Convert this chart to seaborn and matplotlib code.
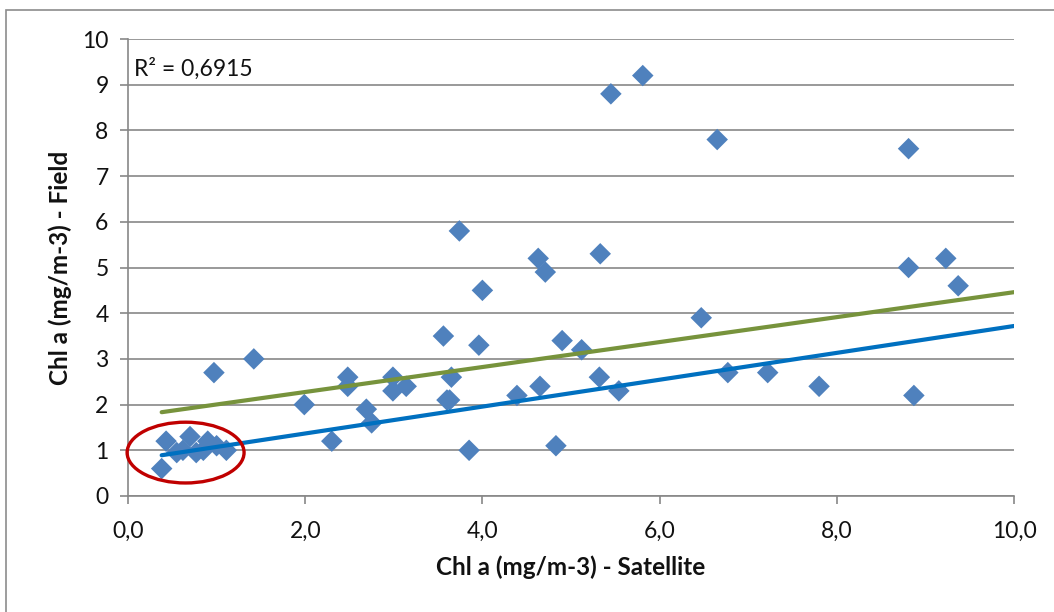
import matplotlib
matplotlib.use("Agg")
import matplotlib.pyplot as plt
from matplotlib.patches import Ellipse, Rectangle
from matplotlib.ticker import FuncFormatter, MultipleLocator
import numpy as np
import pandas as pd
import seaborn as sns

# Satellite vs field chlorophyll-a matchups
satellite = [0.38, 0.43, 0.55, 0.62, 0.70, 0.77, 0.85, 0.90, 1.00, 1.11,
             0.97, 1.42, 1.99, 2.30, 2.48, 2.48, 2.69, 2.75, 2.99, 2.99,
             3.14, 3.56, 3.60, 3.63, 3.65, 3.74, 3.85, 3.96, 4.00, 4.39,
             4.63, 4.65, 4.71, 4.83, 4.90, 5.12, 5.32, 5.33, 5.45, 5.54,
             5.81, 6.47, 6.65, 6.77, 7.22, 7.80, 8.81, 8.81, 8.87, 9.23,
             9.37]
field = [0.6, 1.2, 0.95, 1.0, 1.3, 0.95, 1.0, 1.2, 1.1, 1.0,
         2.7, 3.0, 2.0, 1.2, 2.6, 2.4, 1.9, 1.6, 2.6, 2.3,
         2.4, 3.5, 2.1, 2.1, 2.6, 5.8, 1.0, 3.3, 4.5, 2.2,
         5.2, 2.4, 4.9, 1.1, 3.4, 3.2, 2.6, 5.3, 8.8, 2.3,
         9.2, 3.9, 7.8, 2.7, 2.7, 2.4, 7.6, 5.0, 2.2, 5.2,
         4.6]

# Fitted lines (slope, intercept) drawn over the satellite range
trend_blue = (0.294, 0.78)
trend_green = (0.273, 1.73)
line_x = [0.38, 10.0]

r2_label = "R² = 0,6915"
x_label = "Chl a (mg/m-3) - Satellite"
y_label = "Chl a (mg/m-3) - Field"

# Low-concentration cluster highlight (centre x, centre y, width, height)
cluster = (0.65, 0.95, 1.32, 1.33)

sns.set_theme(style="white")
plt.rcParams["font.family"] = ["Lato", "DejaVu Sans"]

fig = plt.figure(figsize=(10.54, 6.12), dpi=100)
ax = fig.add_axes([128 / 1054, 1 - 496 / 612, (1014 - 128) / 1054, (496 - 39) / 612])

grid_c = "#878787"
text_c = "#111111"
ax.set_xlim(0, 10)
ax.set_ylim(0, 10)
ax.yaxis.set_major_locator(MultipleLocator(1))
ax.xaxis.set_major_locator(MultipleLocator(2))
ax.grid(axis="y", color=grid_c, lw=1.2)
ax.grid(axis="x", visible=False)
ax.set_axisbelow(True)

for side in ("top", "right"):
    ax.spines[side].set_visible(False)
for side in ("left", "bottom"):
    ax.spines[side].set_color(grid_c)
    ax.spines[side].set_linewidth(1.2)

df = pd.DataFrame({"sat": satellite, "field": field})
sns.scatterplot(data=df, x="sat", y="field", marker="D", s=120,
                color="#4F81BD", edgecolor="none", ax=ax, zorder=3)

lx = np.array(line_x)
green = pd.DataFrame({"x": lx, "y": trend_green[0] * lx + trend_green[1]})
blue = pd.DataFrame({"x": lx, "y": trend_blue[0] * lx + trend_blue[1]})
sns.lineplot(data=green, x="x", y="y", color="#77933C", lw=3.0, ax=ax, zorder=4)
sns.lineplot(data=blue, x="x", y="y", color="#0070C0", lw=3.0, ax=ax, zorder=4)

ax.add_patch(Ellipse((cluster[0], cluster[1]), cluster[2], cluster[3],
                     fill=False, edgecolor="#C00000", lw=2.4, zorder=5,
                     clip_on=False))

ax.text(0.007, 0.935, r2_label, transform=ax.transAxes, fontsize=16.5,
        color=text_c, ha="left", va="center")

ax.tick_params(axis="both", which="major", direction="out", length=6,
               width=1.2, color=grid_c, labelsize=16.5, labelcolor=text_c,
               bottom=True, left=True)
ax.tick_params(axis="x", pad=12)
ax.tick_params(axis="y", pad=8)
ax.xaxis.set_major_formatter(FuncFormatter(lambda v, p: f"{v:.1f}".replace(".", ",")))
ax.yaxis.set_major_formatter(FuncFormatter(lambda v, p: f"{int(round(v))}"))

ax.set_xlabel(x_label, fontsize=17.5, fontweight="bold", color=text_c, labelpad=10)
ax.set_ylabel(y_label, fontsize=17.5, fontweight="bold", color=text_c, labelpad=7)

# Outer chart frame
fig.patches.append(Rectangle((6 / 1054, -0.1), 1.2, 1 - 10 / 612 + 0.1,
                             transform=fig.transFigure, fill=False,
                             edgecolor="#8c8c8c", lw=1.2))

fig.savefig("out.png", dpi=100)
